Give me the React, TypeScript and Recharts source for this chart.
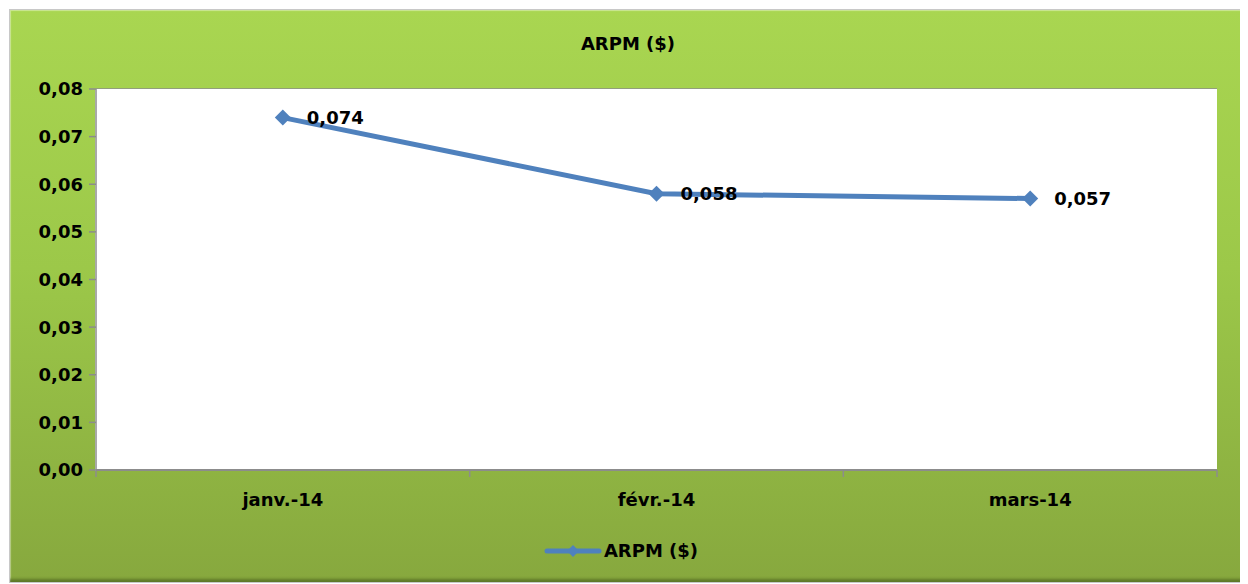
import React from 'react';
import { LineChart, Line, XAxis, YAxis, CartesianGrid, Legend, LabelList } from 'recharts';

const months = ['janv.-14', 'févr.-14', 'mars-14'];
const arpm = [0.074, 0.058, 0.057];
const yTicks = [0, 0.01, 0.02, 0.03, 0.04, 0.05, 0.06, 0.07, 0.08];
// category centres at half steps, band boundaries at whole steps
const xTicks = [0, 0.5, 1, 1.5, 2, 2.5, 3];

const data = months.map((m, i) => ({ month: m, value: arpm[i], idx: i + 0.5 }));

const BLUE = '#4F81BD';
const GRID = '#8c8c8c';
const FONT = '"DejaVu Sans", Verdana, sans-serif';

const fmt = (v: number, d: number) => v.toFixed(d).replace('.', ',');

const Diamond = (props: any) => {
  const { cx, cy } = props;
  if (cx == null || cy == null) return null;
  const r = 8;
  return <path d={`M${cx},${cy - r} L${cx + r},${cy} L${cx},${cy + r} L${cx - r},${cy} Z`} fill={BLUE} />;
};

const MonthTick = (props: any) => {
  const { x, y, payload } = props;
  const v = payload.value as number;
  if (Number.isInteger(v)) {
    return <line x1={x} y1={y} x2={x} y2={y + 7} stroke={GRID} strokeWidth={1.5} />;
  }
  const label = months[Math.floor(v)];
  return (
    <text x={x} y={y + 36} textAnchor="middle" fill="#000" fontSize={18} fontWeight="bold" fontFamily={FONT}>
      {label}
    </text>
  );
};

const LegendContent = () => (
  <div style={{ display: 'flex', justifyContent: 'center', alignItems: 'center', fontFamily: FONT, fontWeight: 'bold', fontSize: 18, color: '#000' }}>
    <svg width={58} height={16} style={{ marginRight: 2 }}>
      <line x1={3} y1={8} x2={55} y2={8} stroke={BLUE} strokeWidth={5} strokeLinecap="round" />
      <path d="M29,2 L35,8 L29,14 L23,8 Z" fill={BLUE} />
    </svg>
    <span>ARPM ($)</span>
  </div>
);

const App = () => {
  return (
    <div
      style={{
        position: 'relative',
        width: 1236,
        height: 572,
        marginLeft: 1,
        marginTop: 1,
        background: 'linear-gradient(to bottom, #A9D651 0%, #9CC849 45%, #87A83E 100%)',
        boxShadow: 'inset -3px -3px 3px rgba(60,80,20,0.55), inset 1px 1px 1px rgba(255,255,255,0.4)',
        border: '1px solid #c8c8c8',
      }}
    >
      <div
        style={{
          position: 'absolute',
          top: 23,
          left: 0,
          width: '100%',
          textAlign: 'center',
          fontFamily: FONT,
          fontWeight: 'bold',
          fontSize: 18,
          color: '#000',
        }}
      >
        ARPM ($)
      </div>
      <LineChart
        width={1236}
        height={572}
        data={data}
        margin={{ top: 79, right: 29, left: 15, bottom: 2 }}
        style={{ fontFamily: FONT }}
      >
        <rect x={85} y={79} width={1122} height={382} fill="#fff" />
        <CartesianGrid vertical={false} stroke={GRID} strokeWidth={1.5} />
        <XAxis
          dataKey="idx"
          type="number"
          domain={[0, 3]}
          ticks={xTicks}
          interval={0}
          height={70}
          tickSize={0}
          tickMargin={0}
          tickLine={false}
          axisLine={{ stroke: GRID, strokeWidth: 2 }}
          tick={<MonthTick />}
        />
        <YAxis
          domain={[0, 0.08]}
          ticks={yTicks}
          width={71}
          interval={0}
          tickFormatter={(v: number) => fmt(v, 2)}
          axisLine={{ stroke: GRID, strokeWidth: 1.5 }}
          tickLine={{ stroke: GRID, strokeWidth: 1.5 }}
          tickSize={7}
          tickMargin={6}
          tick={{ fill: '#000', fontSize: 18, fontWeight: 'bold', fontFamily: FONT }}
        />
        <Legend verticalAlign="bottom" height={40} content={LegendContent} />
        <Line
          dataKey="value"
          stroke={BLUE}
          strokeWidth={5}
          dot={<Diamond />}
          activeDot={false}
          isAnimationActive={false}
        >
          <LabelList
            dataKey="value"
            position="right"
            offset={24}
            formatter={(v: any) => fmt(Number(v), 3)}
            style={{ fill: '#000', fontSize: 18, fontWeight: 'bold', fontFamily: FONT }}
          />
        </Line>
      </LineChart>
    </div>
  );
};

export default App;
